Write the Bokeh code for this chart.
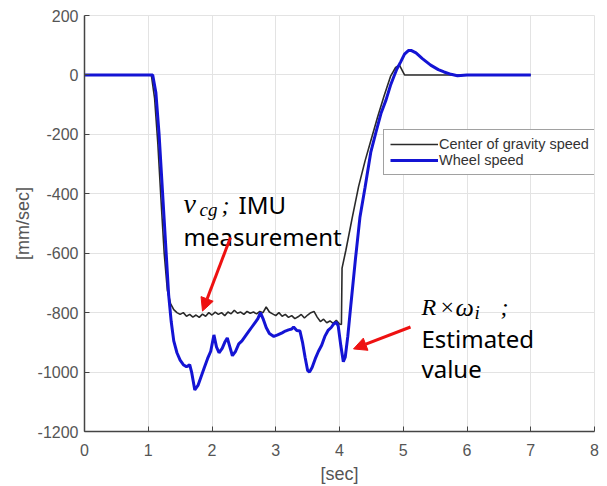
from bokeh.plotting import figure
from bokeh.models import FixedTicker, Label, Arrow, NormalHead, Legend, LegendItem
from bokeh.embed import file_html
from bokeh.resources import INLINE

# ---------------- data ----------------
t_cg = [0.0, 1.0, 1.05, 1.1, 1.15, 1.2, 1.25, 1.3, 1.35, 1.4, 1.45, 1.5, 1.55, 1.6, 1.65,
        1.7, 1.75, 1.8, 1.85, 1.9, 1.95, 2.0, 2.05, 2.1, 2.15, 2.2, 2.25, 2.3, 2.35, 2.4,
        2.45, 2.5, 2.55, 2.6, 2.65, 2.7, 2.75, 2.8, 2.85, 2.9, 2.95, 3.0, 3.05, 3.1, 3.15,
        3.2, 3.25, 3.3, 3.35, 3.4, 3.45, 3.5, 3.55, 3.6, 3.65, 3.7, 3.75, 3.8, 3.85, 3.9,
        3.95, 4.0, 4.03, 4.04, 4.1, 4.2, 4.3, 4.4, 4.5, 4.6, 4.7, 4.8, 4.88, 4.94, 5.02, 7.0]
v_cg = [0, 0, -2, -80, -230, -420, -600, -725, -770, -790, -800, -806, -800, -812, -806,
        -815, -808, -816, -805, -812, -800, -808, -798, -806, -800, -810, -798, -804, -792, -802,
        -798, -806, -796, -802, -798, -804, -796, -800, -781, -798, -804, -810, -800, -812, -806,
        -816, -810, -820, -814, -806, -818, -808, -800, -796, -815, -830, -822, -834, -828, -836,
        -826, -838, -840, -650, -590, -480, -375, -290, -215, -140, -70, -5, 25, 33, 0, 0]

t_wheel = [0.0, 1.0, 1.07, 1.12, 1.17, 1.22, 1.27, 1.32, 1.36, 1.4, 1.45, 1.5, 1.55, 1.6,
           1.65, 1.68, 1.73, 1.78, 1.83, 1.88, 1.93, 1.98, 2.03, 2.07, 2.11, 2.16, 2.2, 2.24,
           2.28, 2.32, 2.37, 2.42, 2.47, 2.52, 2.57, 2.62, 2.67, 2.72, 2.76, 2.8, 2.85, 2.9,
           2.97, 3.03, 3.1, 3.15, 3.2, 3.25, 3.28, 3.33, 3.38, 3.42, 3.46, 3.5, 3.53, 3.57,
           3.62, 3.67, 3.72, 3.77, 3.82, 3.87, 3.91, 3.95, 3.98, 4.02, 4.06, 4.09, 4.13, 4.18,
           4.25, 4.32, 4.4, 4.49, 4.57, 4.65, 4.73, 4.8, 4.85, 4.9, 4.96, 5.02, 5.08, 5.13,
           5.2, 5.3, 5.43, 5.55, 5.64, 5.75, 5.85, 6.0, 7.0]
v_wheel = [0, 0, 0, -60, -200, -380, -560, -740, -830, -895, -935, -960, -975, -982,
           -975, -1000, -1060, -1045, -1015, -985, -955, -930, -875, -915, -935, -920, -900, -885,
           -915, -945, -930, -905, -895, -880, -865, -850, -835, -820, -800, -820, -850, -870,
           -880, -875, -868, -862, -858, -855, -848, -860, -862, -900, -950, -995, -1000, -985,
           -955, -930, -910, -880, -860, -850, -838, -832, -845, -910, -965, -950, -880, -770,
           -620, -480, -380, -261, -194, -130, -84, -35, -7, 20, 44, 70, 82, 82,
           74, 55, 33, 18, 10, 2, -3, 0, 0]

x_ticks = [0, 1, 2, 3, 4, 5, 6, 7, 8]
y_ticks = [-1200, -1000, -800, -600, -400, -200, 0, 200]
series_names = ["Center of gravity speed", "Wheel speed"]

# ---------------- figure ----------------
W, H = 607, 486
FL, FR, FT, FB = 84, 594, 15, 433   # frame edges in page px
p = figure(width=W, height=H, x_range=(0, 8), y_range=(-1200, 200),
           output_backend="svg", toolbar_location=None,
           min_border_left=FL, min_border_right=W - FR, min_border_top=FT,
           min_border_bottom=H - FB)
p.background_fill_color = "white"
p.border_fill_color = "white"
p.outline_line_color = "#e3e3e3"

def ax(px):
    return (px - FL) / (FR - FL) * 8.0
def ay(py):
    return 200 - (py - FT) / (FB - FT) * 1400.0

for axis in (p.xaxis[0], p.yaxis[0]):
    axis.axis_line_color = "#444444"
    axis.axis_line_width = 1.5
    axis.major_tick_in = 5
    axis.major_tick_out = 0
    axis.major_tick_line_color = "#444444"
    axis.minor_tick_line_color = None
    axis.major_label_text_font = "Liberation Sans"
    axis.major_label_text_font_size = "16px"
    axis.major_label_text_color = "#555555"
    axis.axis_label_text_font = "Liberation Sans"
    axis.axis_label_text_font_size = "18px"
    axis.axis_label_text_font_style = "normal"
    axis.axis_label_text_color = "#555555"

p.xaxis.ticker = FixedTicker(ticks=x_ticks)
p.yaxis.ticker = FixedTicker(ticks=y_ticks)
p.yaxis.major_label_overrides = {v: str(v) for v in y_ticks}
p.xaxis.major_label_overrides = {v: str(v) for v in x_ticks}
p.xaxis.axis_label = "[sec]"
p.yaxis.axis_label = "[mm/sec]"
p.xaxis.major_label_standoff = 12
p.xaxis.axis_label_standoff = 5
p.yaxis.major_label_standoff = 6
p.yaxis.axis_label_standoff = 2

p.xgrid.ticker = FixedTicker(ticks=x_ticks)
p.ygrid.ticker = FixedTicker(ticks=y_ticks)
p.grid.grid_line_color = "#e3e3e3"
p.grid.grid_line_width = 1

r_cg = p.line(t_cg, v_cg, line_color="#2a2a2a", line_width=1.6)
r_wh = p.line(t_wheel, v_wheel, line_color="#1414d4", line_width=3)

legend = Legend(items=[LegendItem(label=series_names[0], renderers=[r_cg]),
                       LegendItem(label=series_names[1], renderers=[r_wh])],
                location=(299, 256), orientation="vertical")
legend.label_text_font = "Liberation Sans"
legend.label_text_font_size = "14.5px"
legend.label_text_color = "#333333"
legend.glyph_width = 48
legend.glyph_height = 16
legend.label_height = 16
legend.label_standoff = 1
legend.spacing = 0
legend.padding = 6
legend.margin = 0
legend.border_line_color = "#444444"
legend.border_line_width = 1
legend.background_fill_color = "white"
legend.background_fill_alpha = 1
p.add_layout(legend)

# ---------------- annotations ----------------
SERIF = "Liberation Serif"
SANS = "Noto Sans"
def lab(txt, px, py, font, size, style="normal"):
    p.add_layout(Label(x=ax(px), y=ay(py), text=txt, text_font=font,
                       text_font_size=size, text_font_style=style, text_color="black",
                       text_align="left", text_baseline="alphabetic"))

lab("\u03bd", 183, 204, SERIF, "28px", "italic")
lab("cg", 199, 210, SERIF, "19px", "italic")
lab(";", 221, 205, SERIF, "24px", "italic")
lab("IMU", 238, 205, SANS, "24px")
lab("measurement", 183, 237, SANS, "24px")

lab("R", 421, 308, SERIF, "24px", "italic")
lab("\u00d7", 440, 308, SERIF, "24px")
lab("\u03c9", 455, 308, SERIF, "26px", "italic")
lab("i", 474, 313, SERIF, "19px", "italic")
lab(";", 500, 308, SERIF, "24px", "italic")
lab("Estimated", 421, 340, SANS, "24px")
lab("value", 421, 370, SANS, "24px")

for (sx, sy, ex, ey) in [(230, 238, 202, 312), (410, 328, 353, 350)]:
    p.add_layout(Arrow(x_start=ax(sx), y_start=ay(sy), x_end=ax(ex), y_end=ay(ey),
                       line_color="#ee1111", line_width=3,
                       end=NormalHead(size=13, fill_color="#ee1111", line_color="#ee1111")))

open("out.html", "w").write(file_html(p, INLINE))
